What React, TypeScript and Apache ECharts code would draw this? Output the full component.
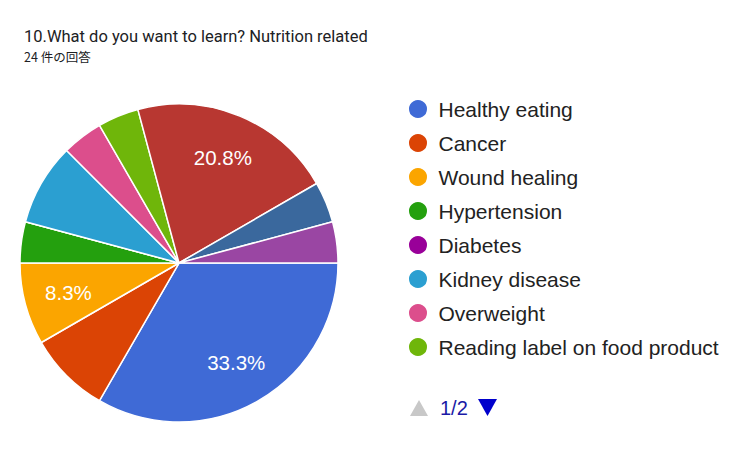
import React, { useEffect, useRef } from "react";
import * as echarts from "echarts";

const titleText = "10.What do you want to learn? Nutrition related";
const subtitleText = "24 件の回答";
const categories = [
  "Healthy eating",
  "Cancer",
  "Wound healing",
  "Hypertension",
  "Diabetes",
  "Kidney disease",
  "Overweight",
  "Reading label on food product",
  "Weight management",
  "Food allergy",
  "Other",
];
const counts = [8, 2, 2, 1, 0, 2, 1, 1, 5, 1, 1];
const colors = [
  "#3f6ad6",
  "#db4405",
  "#fba500",
  "#24a00e",
  "#990099",
  "#2b9fd1",
  "#dc4e8c",
  "#6fb60a",
  "#b83731",
  "#3a689d",
  "#9a46a3",
];
const legendPage1 = categories.slice(0, 8);
const labeledSlices = ["Healthy eating", "Wound healing", "Weight management"];
const pageText = "1/2";

export default function App() {
  const ref = useRef<HTMLDivElement>(null);
  useEffect(() => {
    if (!ref.current) return;
    const chart = echarts.init(ref.current, null, { renderer: "svg" });
    const data = categories.map((name, i) => ({ name, value: counts[i] }));
    chart.setOption({
      animation: false,
      color: colors,
      backgroundColor: "#ffffff",
      title: {
        text: titleText,
        subtext: subtitleText,
        left: 24,
        top: 28,
        padding: 0,
        itemGap: 5,
        textStyle: { fontFamily: "Roboto", fontSize: 16.5, fontWeight: "normal", color: "#202124" },
        subtextStyle: { fontFamily: "Noto Sans CJK JP", fontSize: 12.5, color: "#202124" },
      },
      legend: {
        orient: "vertical",
        left: 402,
        top: 93,
        data: legendPage1,
        icon: "circle",
        itemWidth: 31,
        itemHeight: 20,
        itemGap: 12,
        selectedMode: false,
        textStyle: { fontFamily: "Liberation Sans", fontSize: 21, color: "#222222" },
      },
      graphic: [
        { type: "polygon", shape: { points: [[410, 416], [428, 416], [419, 400]] }, style: { fill: "#c8c8c8" } },
        {
          type: "text",
          x: 440,
          y: 408,
          style: { text: pageText, fontFamily: "Liberation Sans", fontSize: 20, fill: "#1a1aa6", verticalAlign: "middle" },
        },
        { type: "polygon", shape: { points: [[478, 399], [497, 399], [487.5, 416]] }, style: { fill: "#0000cc" } },
      ],
      series: [
        {
          type: "pie",
          center: [179, 263],
          radius: 159,
          startAngle: 0,
          clockwise: true,
          label: { show: false },
          labelLine: { show: false },
          emphasis: { disabled: true },
          itemStyle: { borderColor: "#ffffff", borderWidth: 1.5 },
          data,
        },
        {
          type: "pie",
          center: [179, 263],
          radius: [64, 159],
          startAngle: 0,
          clockwise: true,
          silent: true,
          emphasis: { disabled: true },
          itemStyle: { color: "rgba(0,0,0,0)", borderWidth: 0 },
          labelLine: { show: false },
          data: data.map((d) => ({
            ...d,
            label: {
              show: labeledSlices.includes(d.name),
              position: "inside",
              formatter: (p: any) => `${p.percent.toFixed(1)}%`,
              fontFamily: "Liberation Sans",
              fontSize: 20.5,
              color: "#ffffff",
            },
          })),
        },
      ],
    });
    return () => chart.dispose();
  }, []);
  return <div ref={ref} style={{ position: "fixed", left: 0, top: 0, width: 750, height: 457 }} />;
}
